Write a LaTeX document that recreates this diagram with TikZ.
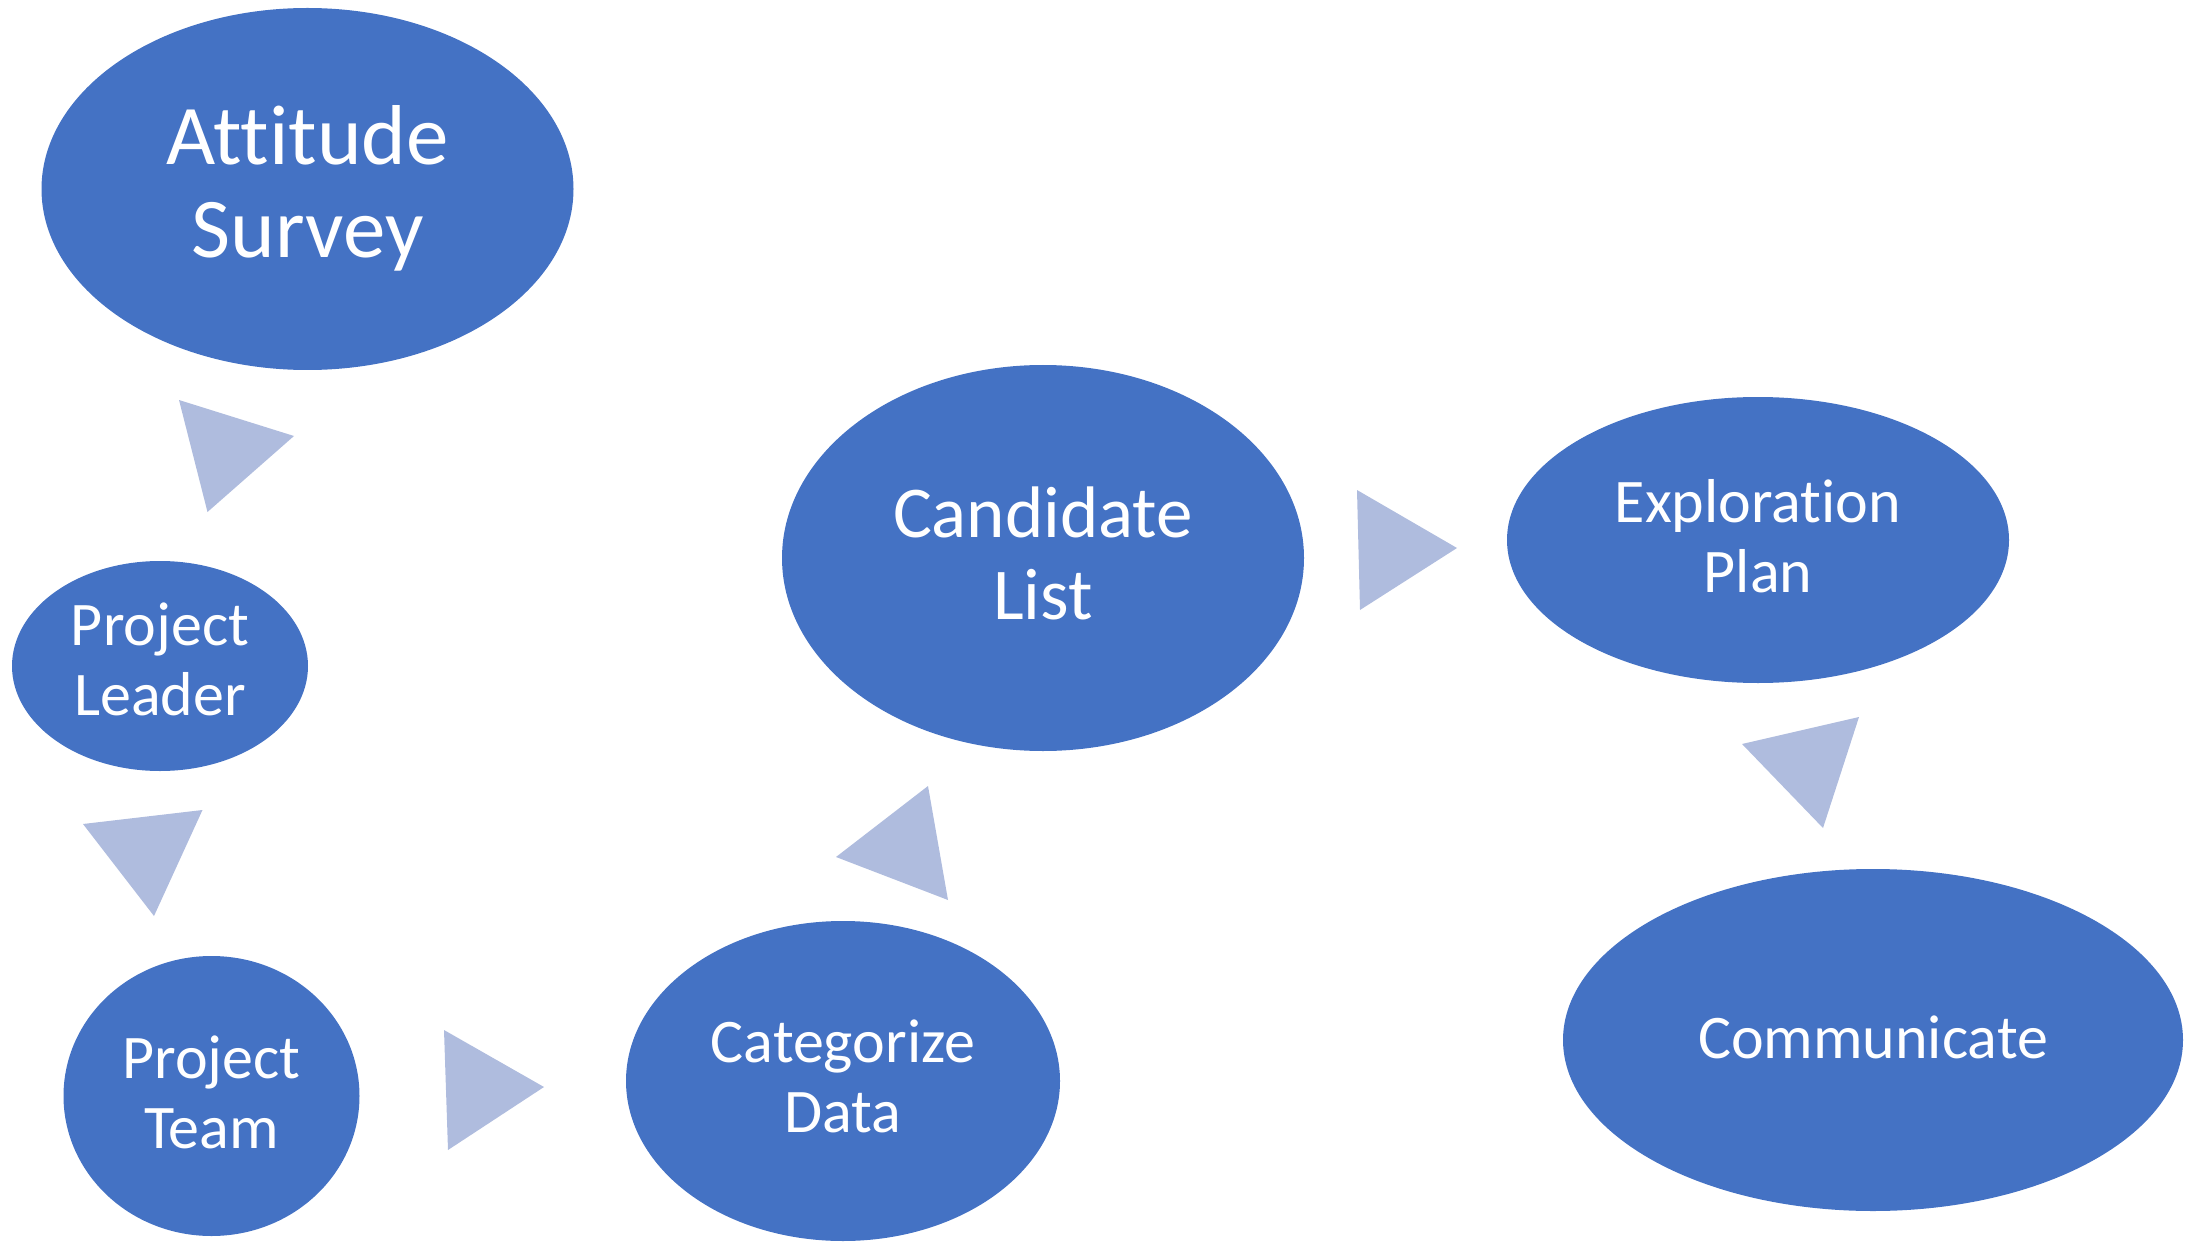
\documentclass[tikz,border=0pt]{standalone}
\usepackage{fontspec}
\setmainfont{Carlito}[Ligatures=NoCommon]
\usetikzlibrary{shapes.geometric}
\definecolor{ellblue}{HTML}{4472C4}
\definecolor{tri}{HTML}{AFBCDE}
\begin{document}
\begin{tikzpicture}[x=1pt,y=-1pt,
  oval/.style={ellipse, fill=ellblue, draw=none, inner sep=0pt, text=white, align=center},
  bigtxt/.style={font=\fontsize{85}{93}\selectfont},
  midtxt/.style={font=\fontsize{73}{82}\selectfont},
  smalltxt/.style={font=\fontsize{62}{70}\selectfont},
  arrowtri/.style={fill=tri, draw=none}]
\useasboundingbox (0,0) rectangle (2203,1246);
% nodes
\node[oval, bigtxt, minimum width=532pt, minimum height=362pt, text height=148pt, text depth=10pt] (as) at (307.5,189) {Attitude\\Survey};
\node[oval, smalltxt, minimum width=296pt, minimum height=210pt, text height=108pt, text depth=10pt] (pl) at (160,666) {Project\\Leader};
\node[oval, smalltxt, minimum width=296pt, minimum height=280pt, text height=114pt, text depth=10pt] (pt) at (211.5,1096) {Project\\Team};
\node[oval, smalltxt, minimum width=434pt, minimum height=320pt, text height=112pt, text depth=10pt] (cd) at (843,1081) {Categorize\\Data};
\node[oval, midtxt, minimum width=522pt, minimum height=386pt, text height=132pt, text depth=10pt] (cl) at (1043,558) {Candidate\\List};
\node[oval, smalltxt, minimum width=502pt, minimum height=286pt, text height=114pt, text depth=10pt] (ep) at (1758,540) {Exploration\\Plan};
\node[oval, smalltxt, minimum width=620pt, minimum height=342pt, text height=45pt, text depth=9pt] (co) at (1873,1040) {Communicate};
% arrow triangles
\fill[arrowtri] (179,400) -- (294,436) -- (207.5,512) -- cycle;
\fill[arrowtri] (83,824) -- (202.5,810) -- (154,916) -- cycle;
\fill[arrowtri] (444,1030) -- (544,1087) -- (448,1150) -- cycle;
\fill[arrowtri] (928,786) -- (836,857) -- (948,900) -- cycle;
\fill[arrowtri] (1357,490) -- (1457,548) -- (1360,610) -- cycle;
\fill[arrowtri] (1742,744) -- (1859,717) -- (1823,828) -- cycle;
\end{tikzpicture}
\end{document}
